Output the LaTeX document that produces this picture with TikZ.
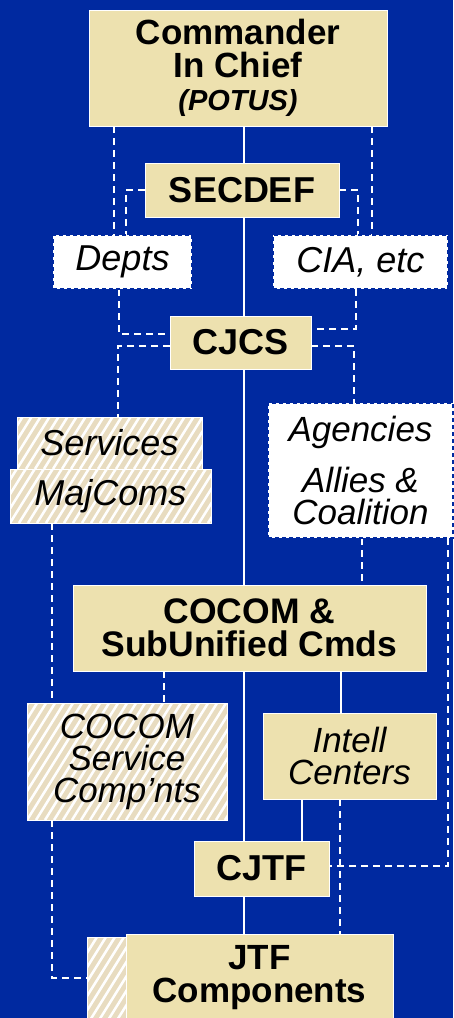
\documentclass[tikz,border=0pt]{standalone}
\usepackage{fontspec}
\setmainfont{Liberation Sans}
\usetikzlibrary{calc}
\definecolor{bgblue}{RGB}{0,41,160}
\definecolor{tanbox}{RGB}{237,225,175}
\definecolor{tanhatch}{RGB}{232,220,192}
\pgfdeclarelayer{back}
\pgfdeclarelayer{edges}
\pgfsetlayers{back,edges,main}
\begin{document}
\begin{tikzpicture}[x=1pt,y=-1pt,
  every node/.style={inner sep=0pt, outer sep=0pt, text=black, align=center},
  bf/.style={font=\fontsize{36}{32}\selectfont\bfseries},
  it/.style={font=\fontsize{36}{32}\selectfont\itshape},
  itm/.style={font=\fontsize{35}{32}\selectfont\itshape},
  box/.style={rectangle, fill=tanbox, draw=white, line width=1pt},
  hatchbox/.style={rectangle, draw=white, line width=1pt, fill=tanhatch,
    path picture={\foreach \i in {-15,...,30}{\draw[white,line width=2.5pt]
      ($(path picture bounding box.south west)+(\i*9pt,0pt)$) -- ++(58:220pt);}}},
  dashbox/.style={rectangle, fill=white, draw=bgblue, line width=2.5pt, dash pattern=on 4pt off 3pt},
  link/.style={draw=white, line width=1.3pt},
  dlink/.style={draw=white, line width=1.3pt, dash pattern=on 7pt off 5pt},
]
\begin{pgfonlayer}{back}
\fill[bgblue] (0,0) rectangle (453,1018);
\end{pgfonlayer}
\useasboundingbox (0,0) rectangle (453,1018);

\node[box, minimum width=298pt, minimum height=116pt, font=\fontsize{35}{33}\selectfont\bfseries] (cinc) at (238,68) {Commander\\In Chief\\{\fontsize{29}{31}\selectfont\bfseries\itshape (POTUS)}};
\node[box, bf, minimum width=194pt, minimum height=54pt] (secdef) at (242,190) {SECDEF};
\node[dashbox, it, minimum width=139pt, minimum height=54pt] (depts) at (122.5,262) {Depts};
\node[dashbox, it, minimum width=175pt, minimum height=54pt] (cia) at (360.5,262) {CIA, etc};
\node[box, bf, minimum width=141pt, minimum height=53pt] (cjcs) at (240.5,342.5) {CJCS};
\node[dashbox, itm, minimum width=185pt, minimum height=135pt] (agen) at (360.5,470.5) {Agencies\\[18pt]Allies \&\\Coalition};
\node[hatchbox, it, minimum width=185pt, minimum height=52pt] (serv) at (109.5,443) {Services};
\node[hatchbox, it, minimum width=201pt, minimum height=54pt] (majc) at (110.5,496) {MajComs};
\node[box, font=\fontsize{35.5}{33}\selectfont\bfseries, minimum width=353pt, minimum height=86pt] (cocom) at (249.5,628) {COCOM \&\\SubUnified Cmds};
\node[hatchbox, itm, minimum width=200pt, minimum height=117pt] (scomp) at (127,761.5) {COCOM\\Service\\Comp’nts};
\node[box, itm, minimum width=173pt, minimum height=86pt] (intell) at (349.5,756) {Intell\\Centers};
\node[box, bf, minimum width=135pt, minimum height=55pt] (cjtf) at (261.5,868.5) {CJTF};
\node[hatchbox, minimum width=39pt, minimum height=88pt] (jtfh) at (106.5,981) {};
\node[box, font=\fontsize{35}{33}\selectfont\bfseries, minimum width=267pt, minimum height=88pt] (jtf) at (259.5,978) {JTF\\Components};

\coordinate (sp) at (244,0);
\coordinate (xi) at (341,0);
\coordinate (xj) at (302,0);
\coordinate (a1) at (114,0);
\coordinate (a2) at (126,0);
\coordinate (a3) at (372,0);
\coordinate (a4) at (358,0);
\coordinate (a5) at (119,0);
\coordinate (a6) at (118,0);
\coordinate (a7) at (356,0);
\coordinate (a8) at (354,0);
\coordinate (a9) at (52,0);
\coordinate (a10) at (164,0);
\coordinate (a11) at (362,0);
\coordinate (a12) at (448,0);
\coordinate (a13) at (340,0);

\begin{pgfonlayer}{edges}
\draw[link] (cinc.south -| sp) -- (secdef.north -| sp);
\draw[link] (secdef.south -| sp) -- (cjcs.north -| sp);
\draw[link] (cjcs.south -| sp) -- (cocom.north -| sp);
\draw[link] (cocom.south -| sp) -- (cjtf.north -| sp);
\draw[link] (cjtf.south -| sp) -- (jtf.north -| sp);
\draw[link] (cocom.south -| xi) -- (intell.north -| xi);
\draw[link] (intell.south -| xj) -- (cjtf.north -| xj);

\draw[dlink] (cinc.south -| a1) -- (depts.north -| a1);
\draw[dlink] (secdef.west) -| (depts.north -| a2);
\draw[dlink] (cinc.south -| a3) -- (cia.north -| a3);
\draw[dlink] (secdef.east) -| (cia.north -| a4);
\draw[dlink] (depts.south -| a5) |- ([yshift=8.5pt]cjcs.west);
\draw[dlink] ([yshift=-3.5pt]cjcs.west) -| (serv.north -| a6);
\draw[dlink] (cia.south -| a7) |- ([yshift=13.5pt]cjcs.east);
\draw[dlink] ([yshift=-3.5pt]cjcs.east) -| (agen.north -| a8);
\draw[dlink] (majc.south -| a9) -- (scomp.north -| a9);
\draw[dlink] (scomp.south -| a9) |- ([yshift=3pt]jtfh.west);
\draw[dlink] (cocom.south -| a10) -- (scomp.north -| a10);
\draw[dlink] (agen.south -| a11) -- (cocom.north -| a11);
\draw[dlink] (agen.south -| a12) |- ([yshift=2.5pt]cjtf.east);
\draw[dlink] (intell.south -| a13) -- (jtf.north -| a13);
\end{pgfonlayer}
\end{tikzpicture}
\end{document}
